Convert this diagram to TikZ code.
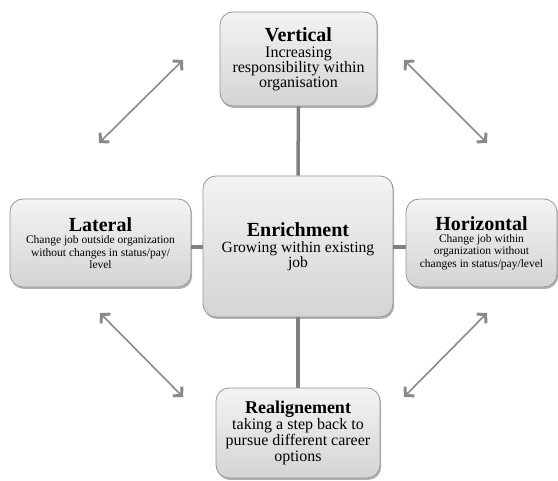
\documentclass[tikz,border=0pt]{standalone}
\usepackage{fontspec}
\setmainfont{Liberation Serif}
\usetikzlibrary{arrows.meta,shadows}
\definecolor{linegray}{RGB}{128,128,128}
\definecolor{arrgray}{RGB}{138,138,138}
\definecolor{boxborder}{RGB}{150,150,150}
\definecolor{boxtop}{RGB}{243,243,243}
\definecolor{boxbot}{RGB}{212,212,212}
\newcommand{\ttlA}{\fontsize{20}{22}\selectfont\bfseries}
\newcommand{\ttlB}{\fontsize{18}{20}\selectfont\bfseries}
\begin{document}
\begin{tikzpicture}[x=1pt,y=-1pt,
  box/.style={draw=boxborder, line width=0.8pt, rounded corners=13pt,
    top color=boxtop, bottom color=boxbot,
    drop shadow={shadow xshift=1.2pt, shadow yshift=-2pt, opacity=0.3, fill=black},
    align=center, inner sep=0pt},
  link/.style={draw=linegray, line width=3.5pt},
  dblarrow/.style={draw=arrgray, line width=1.6pt,
    {Straight Barb[length=6pt,width=13pt,line width=3pt]}-{Straight Barb[length=6pt,width=13pt,line width=3pt]}},
  bigsub/.style={font=\fontsize{16}{15}\selectfont},
  smallsub/.style={font=\fontsize{11.5}{12.3}\selectfont}]
\useasboundingbox (0,0) rectangle (558,481);

\node[box, bigsub, minimum width=157pt, minimum height=94pt] (V) at (298.5,59)
  {{\ttlA Vertical}\\[1pt]Increasing\\responsibility within\\organisation};
\node[box, font=\fontsize{15.6}{14}\selectfont, minimum width=190pt, minimum height=141pt] (E) at (298,246.5)
  {{\ttlA Enrichment}\\[2pt]Growing within existing\\job};
\node[box, smallsub, minimum width=181pt, minimum height=88pt] (L) at (100.5,243)
  {{\ttlA Lateral}\\Change job outside organization\\without changes in status/pay/\\level};
\node[box, smallsub, minimum width=151pt, minimum height=88pt] (H) at (481.5,243)
  {{\ttlA Horizontal}\\Change job within\\organization without\\changes in status/pay/level};
\node[box, font=\fontsize{16}{16}\selectfont, minimum width=164pt, minimum height=90pt] (R) at (298,433)
  {{\ttlB Realignement}\\taking a step back to\\pursue different career\\options};

\draw[link] (V.south) -- (E.north);
\draw[link] (E.south) -- (R.north);
\draw[link] (E.west) ++(0,0.5) coordinate (ew) -- (ew -| L.east);
\draw[link] (E.east) ++(0,0.5) coordinate (ee) -- (ee -| H.west);

\coordinate (a1) at (99,143);  \coordinate (b1) at (183,60);
\coordinate (a2) at (404,60);  \coordinate (b2) at (487,143);
\coordinate (a3) at (100,313); \coordinate (b3) at (183,397);
\coordinate (a4) at (487,313); \coordinate (b4) at (404,397);
\draw[dblarrow] (a1) -- (b1);
\draw[dblarrow] (a2) -- (b2);
\draw[dblarrow] (a3) -- (b3);
\draw[dblarrow] (a4) -- (b4);
\end{tikzpicture}
\end{document}
